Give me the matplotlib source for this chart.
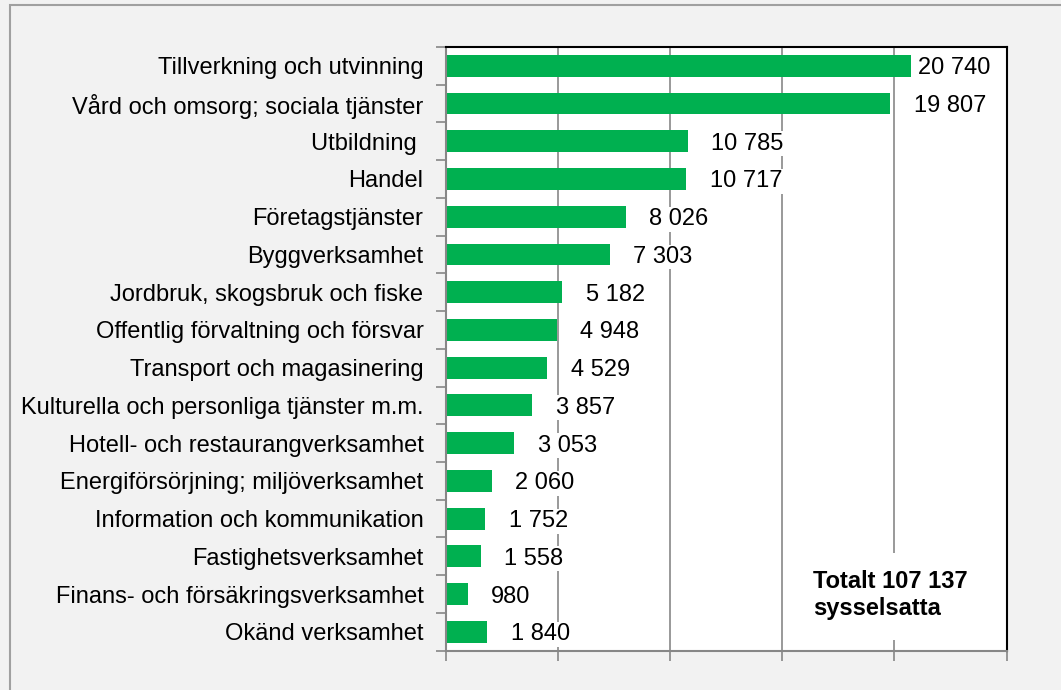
import matplotlib
matplotlib.use("Agg")
import matplotlib.pyplot as plt
from matplotlib.patches import Rectangle

plt.rcParams['font.family'] = ['Liberation Sans', 'DejaVu Sans']

# data
branscher = ['Tillverkning och utvinning', 'Vård och omsorg; sociala tjänster', 'Utbildning ',
             'Handel', 'Företagstjänster', 'Byggverksamhet', 'Jordbruk, skogsbruk och fiske',
             'Offentlig förvaltning och försvar', 'Transport och magasinering',
             'Kulturella och personliga tjänster m.m.', 'Hotell- och restaurangverksamhet',
             'Energiförsörjning; miljöverksamhet', 'Information och kommunikation',
             'Fastighetsverksamhet', 'Finans- och försäkringsverksamhet', 'Okänd verksamhet']
sysselsatta = [20740, 19807, 10785, 10717, 8026, 7303, 5182, 4948, 4529, 3857, 3053,
               2060, 1752, 1558, 980, 1840]
totalt_text = 'Totalt 107 137\nsysselsatta'

GREEN = '#00B050'
GRAY = '#878787'

fig = plt.figure(figsize=(10.61, 6.90), dpi=100, facecolor='#f2f2f2')
# yttre ram
fig.patches.append(Rectangle((10 / 1061, -0.1), 1.2, 1.1 - 5 / 690, transform=fig.transFigure,
                             facecolor='none', edgecolor='#a0a0a0', lw=1.5))

ax = fig.add_axes([0.42, 0.057, 0.5288, 0.875])
ax.set_facecolor('white')

pos = list(range(len(branscher)))
ax.barh(pos, sysselsatta, height=0.58, color=GREEN, zorder=2)

xmax = 25000
for p, v in zip(pos, sysselsatta):
    lbl = '{:,}'.format(v).replace(',', ' ')
    off = 17 if v < 0.8 * xmax else 5   # håll etiketten innanför ramen
    ax.annotate(lbl, xy=(v, p), xytext=(off, 0), textcoords='offset points',
                ha='left', va='center_baseline', fontsize=17, color='black', zorder=4,
                bbox=dict(facecolor='white', edgecolor='none', pad=1))

ax.set_xlim(0, xmax)
ax.set_ylim(len(branscher) - 0.5, -0.5)
ax.set_xticks(range(0, xmax + 1, 5000))
ax.set_xticklabels([])
ax.set_yticks(pos)
ax.set_yticklabels(branscher, fontsize=17, va='center_baseline')
ax.set_yticks([p - 0.5 for p in pos] + [len(pos) - 0.5], minor=True)
ax.tick_params(axis='y', which='major', length=0, pad=16)
ax.tick_params(axis='y', which='minor', length=7, color=GRAY, width=1.2)
ax.tick_params(axis='x', length=7, color=GRAY, width=1.2)

ax.set_axisbelow(True)
ax.grid(axis='x', color=GRAY, lw=1.2)

for s in ['left', 'bottom']:
    ax.spines[s].set_color(GRAY)
    ax.spines[s].set_linewidth(1.5)
for s in ['top', 'right']:
    ax.spines[s].set_color('black')
    ax.spines[s].set_linewidth(1.5)

# textruta med totalt
ax.add_patch(Rectangle((0.605, 0.018), 0.392, 0.144, transform=ax.transAxes,
                       facecolor='white', edgecolor='none', zorder=3))
ax.text(0.655, 0.092, totalt_text, transform=ax.transAxes, ha='left', va='center',
        fontsize=17, fontweight='bold', linespacing=1.2, zorder=4)

fig.savefig('out.png', dpi=100, facecolor=fig.get_facecolor())
